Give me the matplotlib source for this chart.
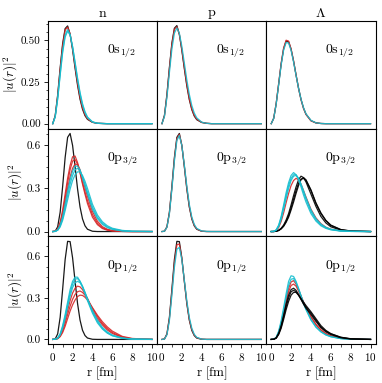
import matplotlib
matplotlib.use("Agg")
import matplotlib.pyplot as plt
from matplotlib.ticker import MultipleLocator, AutoMinorLocator, FormatStrFormatter

plt.rcParams['font.family'] = 'serif'
plt.rcParams['font.serif'] = ['cmr10']
plt.rcParams['mathtext.fontset'] = 'cm'
plt.rcParams['axes.formatter.use_mathtext'] = True
plt.rcParams['axes.unicode_minus'] = False

# radial grid [fm]
r = [0, 0.25, 0.5, 0.75, 1.0, 1.25, 1.5, 1.75, 2.0, 2.25, 2.5, 2.75, 3.0,
     3.25, 3.5, 4.0, 4.5, 5.0, 5.5, 6.0, 7.0, 8.0, 10.0]

# ---- 0s1/2 ----
n_s_k = [0, .048, .173, .335, .481, .571, .587, .537, .444, .334, .231, .147, .087, .048, .026, .008, .002, .001, 0, 0, 0, 0, 0]
n_s_r = [0, .045, .165, .325, .470, .562, .580, .540, .452, .345, .242, .157, .095, .054, .029, .009, .002, .001, 0, 0, 0, 0, 0]
n_s_c1 = [0, .041, .153, .299, .438, .532, .565, .536, .461, .364, .265, .179, .112, .066, .036, .010, .002, .001, 0, 0, 0, 0, 0]
n_s_c2 = [0, .039, .147, .290, .427, .520, .555, .532, .463, .370, .274, .188, .120, .072, .040, .011, .003, .001, 0, 0, 0, 0, 0]

p_s_k = [0, .050, .176, .338, .484, .573, .589, .536, .441, .331, .228, .145, .085, .046, .024, .007, .002, 0, 0, 0, 0, 0, 0]
p_s_r = [0, .047, .170, .330, .477, .566, .582, .537, .447, .339, .236, .151, .090, .050, .027, .008, .002, 0, 0, 0, 0, 0, 0]
p_s_c = [0, .043, .158, .307, .448, .543, .575, .543, .465, .365, .264, .177, .110, .064, .035, .009, .002, 0, 0, 0, 0, 0, 0]

l_s_k = [0, .032, .120, .238, .358, .450, .496, .492, .447, .376, .293, .214, .146, .094, .057, .018, .005, .001, 0, 0, 0, 0, 0]
l_s_r = [0, .033, .122, .242, .363, .455, .501, .496, .449, .376, .292, .211, .143, .091, .055, .017, .004, .001, 0, 0, 0, 0, 0]
l_s_c = [0, .031, .117, .234, .352, .442, .487, .484, .440, .370, .290, .213, .147, .096, .059, .020, .005, .001, 0, 0, 0, 0, 0]

# ---- 0p3/2 ----
n_p3_k = [0, .002, .033, .135, .314, .514, .655, .682, .599, .452, .297, .171, .088, .040, .016, .002, 0, 0, 0, 0, 0, 0, 0]
n_p3_r1 = [0, .002, .018, .065, .150, .260, .370, .460, .520, .525, .480, .410, .330, .260, .195, .100, .048, .021, .009, .004, .001, 0, 0]
n_p3_r2 = [0, .002, .015, .055, .130, .230, .340, .430, .490, .500, .470, .410, .340, .275, .215, .118, .058, .026, .012, .005, .001, 0, 0]
n_p3_r3 = [0, .002, .013, .048, .115, .200, .300, .380, .440, .470, .465, .430, .370, .305, .245, .140, .072, .034, .016, .007, .001, 0, 0]
n_p3_c1 = [0, .001, .012, .045, .105, .190, .280, .360, .420, .455, .455, .430, .370, .315, .260, .155, .090, .050, .027, .015, .004, .001, 0]
n_p3_c2 = [0, .001, .010, .038, .090, .165, .250, .330, .390, .430, .440, .420, .380, .330, .275, .170, .100, .058, .032, .018, .005, .001, 0]
n_p3_c3 = [0, .001, .009, .032, .078, .145, .220, .295, .355, .395, .415, .415, .390, .350, .300, .190, .115, .068, .040, .023, .008, .002, 0]

p_p3_k = [0, .002, .033, .135, .314, .514, .655, .682, .599, .452, .297, .171, .088, .040, .016, .002, 0, 0, 0, 0, 0, 0, 0]
p_p3_r = [0, .002, .031, .130, .305, .503, .645, .676, .599, .457, .305, .178, .093, .043, .018, .002, 0, 0, 0, 0, 0, 0, 0]
p_p3_c = [0, .002, .029, .124, .294, .489, .632, .668, .598, .465, .318, .190, .102, .050, .022, .004, .001, 0, 0, 0, 0, 0, 0]

l_p3_k1 = [0, 0, .002, .009, .023, .045, .080, .125, .185, .250, .310, .360, .385, .375, .345, .260, .175, .105, .060, .033, .010, .002, 0]
l_p3_k2 = [0, 0, .002, .007, .018, .036, .064, .100, .150, .205, .265, .320, .360, .375, .360, .290, .200, .130, .078, .045, .014, .004, 0]
l_p3_k3 = [0, 0, .002, .008, .020, .040, .070, .110, .165, .225, .285, .335, .365, .370, .355, .285, .195, .125, .075, .042, .013, .003, 0]
l_p3_r = [0, .001, .007, .028, .070, .130, .200, .265, .320, .355, .370, .360, .330, .285, .240, .155, .095, .055, .030, .016, .005, .001, 0]
l_p3_c1 = [0, .001, .012, .045, .105, .185, .270, .340, .390, .410, .395, .360, .310, .255, .205, .125, .073, .040, .022, .012, .003, .001, 0]
l_p3_c2 = [0, .001, .010, .040, .095, .170, .250, .320, .370, .395, .395, .370, .325, .275, .225, .140, .083, .047, .026, .014, .004, .001, 0]
l_p3_c3 = [0, .001, .009, .035, .085, .155, .230, .300, .355, .385, .390, .370, .330, .285, .235, .150, .090, .052, .029, .016, .005, .001, 0]

# ---- 0p1/2 ----
n_p1_k = [0, .003, .040, .160, .363, .577, .709, .707, .590, .421, .260, .140, .066, .028, .010, .001, 0, 0, 0, 0, 0, 0, 0]
n_p1_r1 = [0, .001, .008, .030, .075, .140, .210, .280, .335, .370, .385, .380, .360, .330, .295, .210, .150, .105, .068, .043, .013, .003, 0]
n_p1_r2 = [0, .001, .006, .024, .060, .115, .180, .240, .290, .325, .345, .350, .340, .320, .295, .225, .165, .115, .078, .050, .017, .005, 0]
n_p1_r3 = [0, .001, .005, .020, .050, .095, .150, .205, .250, .285, .310, .320, .318, .305, .285, .230, .175, .128, .090, .060, .022, .007, 0]
n_p1_c1 = [0, .001, .010, .040, .100, .180, .270, .360, .420, .450, .450, .420, .380, .330, .280, .190, .120, .075, .045, .026, .008, .002, 0]
n_p1_c2 = [0, .001, .009, .036, .090, .165, .250, .335, .400, .435, .440, .420, .385, .340, .290, .200, .130, .080, .048, .028, .009, .002, 0]
n_p1_c3 = [0, .001, .008, .032, .080, .150, .235, .310, .375, .410, .420, .410, .380, .340, .295, .210, .140, .088, .054, .032, .010, .003, 0]

p_p1_k = [0, .003, .040, .160, .363, .577, .709, .707, .590, .421, .260, .140, .066, .028, .010, .001, 0, 0, 0, 0, 0, 0, 0]
p_p1_r = [0, .003, .037, .150, .345, .552, .684, .690, .584, .423, .267, .147, .072, .031, .012, .002, 0, 0, 0, 0, 0, 0, 0]
p_p1_c = [0, .002, .033, .137, .320, .520, .652, .665, .577, .430, .281, .160, .082, .037, .015, .002, 0, 0, 0, 0, 0, 0, 0]

l_p1_k1 = [0, .001, .011, .045, .100, .175, .255, .320, .360, .370, .355, .325, .290, .255, .225, .180, .130, .085, .055, .035, .012, .003, 0]
l_p1_k2 = [0, .001, .010, .040, .090, .160, .235, .300, .345, .355, .345, .320, .290, .260, .235, .190, .140, .090, .060, .040, .015, .004, 0]
l_p1_k3 = [0, .001, .009, .035, .080, .145, .215, .275, .320, .340, .340, .320, .295, .270, .245, .200, .150, .100, .065, .042, .016, .005, 0]
l_p1_r1 = [0, .001, .012, .050, .115, .200, .290, .370, .415, .425, .400, .360, .315, .270, .230, .160, .105, .065, .040, .024, .008, .002, 0]
l_p1_r2 = [0, .001, .011, .045, .105, .185, .270, .345, .390, .400, .385, .350, .310, .270, .230, .165, .110, .070, .043, .026, .009, .002, 0]
l_p1_c1 = [0, .002, .015, .060, .135, .230, .330, .420, .460, .455, .420, .370, .315, .260, .215, .140, .088, .054, .032, .019, .006, .001, 0]
l_p1_c2 = [0, .001, .013, .053, .120, .210, .305, .390, .435, .440, .410, .365, .315, .265, .220, .145, .092, .057, .034, .020, .006, .001, 0]

columns = [r'$\mathrm{n}$', r'$\mathrm{p}$', r'$\Lambda$']
states = [r'$0\mathrm{s}_{1/2}$', r'$0\mathrm{p}_{3/2}$', r'$0\mathrm{p}_{1/2}$']

BLACK = 'k'
RED = '#d62728'
CYAN = '#17becf'

panels = [
    [[(BLACK, [n_s_k]), (RED, [n_s_r]), (CYAN, [n_s_c1, n_s_c2])],
     [(BLACK, [p_s_k]), (RED, [p_s_r]), (CYAN, [p_s_c])],
     [(BLACK, [l_s_k]), (RED, [l_s_r]), (CYAN, [l_s_c])]],
    [[(BLACK, [n_p3_k]), (RED, [n_p3_r1, n_p3_r2, n_p3_r3]), (CYAN, [n_p3_c1, n_p3_c2, n_p3_c3])],
     [(BLACK, [p_p3_k]), (RED, [p_p3_r]), (CYAN, [p_p3_c])],
     [(RED, [l_p3_r]), (BLACK, [l_p3_k1, l_p3_k2, l_p3_k3]), (CYAN, [l_p3_c1, l_p3_c2, l_p3_c3])]],
    [[(BLACK, [n_p1_k]), (RED, [n_p1_r1, n_p1_r2, n_p1_r3]), (CYAN, [n_p1_c1, n_p1_c2, n_p1_c3])],
     [(BLACK, [p_p1_k]), (RED, [p_p1_r]), (CYAN, [p_p1_c])],
     [(RED, [l_p1_r1, l_p1_r2]), (CYAN, [l_p1_c1, l_p1_c2]), (BLACK, [l_p1_k1, l_p1_k2, l_p1_k3])]],
]

fig, axes = plt.subplots(3, 3, figsize=(3.82, 3.83), dpi=100, sharex=True, sharey='row')
fig.subplots_adjust(left=0.125, right=0.983, top=0.946, bottom=0.101, wspace=0, hspace=0)

for i in range(3):
    for j in range(3):
        ax = axes[i, j]
        for color, curves in panels[i][j]:
            for y in curves:
                ax.plot(r, y, color=color, lw=0.9, alpha=0.9)
        ax.text(5.45, 0.69, states[i], transform=ax.get_xaxis_transform(),
                ha='left', va='baseline', fontsize=10)
        ax.set_xticks([0, 2, 4, 6, 8, 10])
        ax.tick_params(labelsize=8, length=3, width=0.6, pad=2)
        ax.tick_params(which='minor', length=1.8, width=0.5)
        for s in ax.spines.values():
            s.set_linewidth(0.8)
        if i == 0:
            ax.set_title(columns[j], fontsize=10, pad=3)
        if j == 0:
            ax.set_ylabel(r'$|u(r)|^2$', fontsize=9.5, labelpad=1)
            ax.yaxis.set_minor_locator(AutoMinorLocator())
        else:
            ax.tick_params(axis='y', which='both', left=False)
        if i == 2:
            ax.set_xlabel(r'$\mathrm{r\ [fm]}$', fontsize=9.5, labelpad=1)
            ax.xaxis.set_minor_locator(AutoMinorLocator(2))
        else:
            ax.tick_params(axis='x', which='both', bottom=False)

axes[0, 0].yaxis.set_major_locator(MultipleLocator(0.25))
axes[1, 0].yaxis.set_major_locator(MultipleLocator(0.3))
axes[2, 0].yaxis.set_major_locator(MultipleLocator(0.3))
axes[0, 0].yaxis.set_major_formatter(FormatStrFormatter('%.2f'))
axes[1, 0].yaxis.set_major_formatter(FormatStrFormatter('%.1f'))
axes[2, 0].yaxis.set_major_formatter(FormatStrFormatter('%.1f'))

fig.savefig('out.png', dpi=100)
